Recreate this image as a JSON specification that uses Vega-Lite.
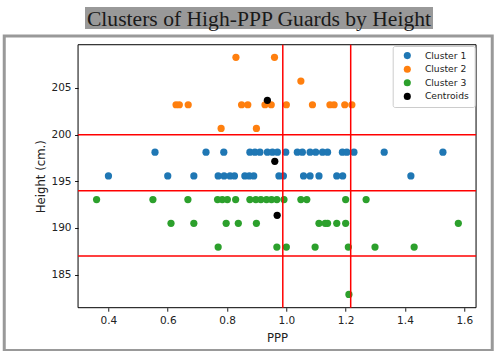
{
  "$schema": "https://vega.github.io/schema/vega-lite/v6.json",
  "padding": {"left": 2, "top": 7, "right": 0, "bottom": 0},
  "background": "white",
  "spacing": 3,
  "center": true,
  "config": {"view": {"stroke": null}, "font": "DejaVu Sans"},
  "vconcat": [
    {
      "spacing": 0,
      "hconcat": [
        {
          "width": 20,
          "height": 22,
          "data": {"values": []},
          "mark": {"type": "point", "opacity": 0}
        },
        {
          "width": 348,
          "height": 22,
          "view": {"fill": "#999999", "stroke": null},
          "data": {"values": [{"t": "Clusters of High-PPP Guards by Height"}]},
          "mark": {"type": "text", "font": "Liberation Serif", "fontSize": 21.6, "color": "#1a1a1a", "baseline": "alphabetic", "align": "center", "dy": 8},
          "encoding": {"text": {"field": "t", "type": "nominal"}}
        }
      ]
    },
    {
      "width": 488,
      "height": 314.5,
      "view": {"stroke": "#999999", "strokeWidth": 3, "fill": "white"},
      "encoding": {
        "x": {
          "field": "x", "type": "quantitative",
          "scale": {"domain": [0.0486, 1.6944], "nice": false, "zero": false},
          "axis": {
            "values": [0.4, 0.6, 0.8, 1.0, 1.2, 1.4, 1.6], "format": ".1f",
            "offset": -42.8, "domain": false, "grid": false,
            "tickSize": 3.5, "tickColor": "black", "tickWidth": 0.9,
            "labelFontSize": 10.5, "labelColor": "#222222", "labelPadding": 4,
            "labelFlush": false, "labelOverlap": false,
            "title": "PPP", "titleFontSize": 11.7, "titleFontWeight": "normal",
            "titleColor": "#222222", "titlePadding": 7, "titleX": 272.8
          }
        },
        "y": {
          "field": "y", "type": "quantitative",
          "scale": {"domain": [176.875, 210.565], "nice": false, "zero": false},
          "axis": {
            "values": [185, 190, 195, 200, 205],
            "offset": -73.8, "domain": false, "grid": false,
            "tickSize": 3.5, "tickColor": "black", "tickWidth": 0.9,
            "labelFontSize": 10.5, "labelColor": "#222222", "labelPadding": 3.5,
            "labelFlush": false, "labelOverlap": false,
            "title": "Height (cm.)", "titleFontSize": 11.7, "titleFontWeight": "normal",
            "titleColor": "#222222", "titlePadding": 5, "titleY": 140.2
          }
        }
      },
      "layer": [
        {
          "data": {"values": [{"x": 0.2975, "x2": 1.6398, "y": 181.46, "y2": 209.63}]},
          "mark": {"type": "rect", "fill": "transparent", "stroke": "black", "strokeWidth": 1},
          "encoding": {"x2": {"field": "x2"}, "y2": {"field": "y2"}}
        },
        {
          "data": {"values": [
            {"group": "Cluster 1", "x": 0.557, "y": 198.12},
            {"group": "Cluster 1", "x": 0.729, "y": 198.12},
            {"group": "Cluster 1", "x": 0.789, "y": 198.12},
            {"group": "Cluster 1", "x": 0.877, "y": 198.12},
            {"group": "Cluster 1", "x": 0.894, "y": 198.12},
            {"group": "Cluster 1", "x": 0.911, "y": 198.12},
            {"group": "Cluster 1", "x": 0.936, "y": 198.12},
            {"group": "Cluster 1", "x": 0.953, "y": 198.12},
            {"group": "Cluster 1", "x": 0.970, "y": 198.12},
            {"group": "Cluster 1", "x": 0.998, "y": 198.12},
            {"group": "Cluster 1", "x": 1.037, "y": 198.12},
            {"group": "Cluster 1", "x": 1.054, "y": 198.12},
            {"group": "Cluster 1", "x": 1.080, "y": 198.12},
            {"group": "Cluster 1", "x": 1.099, "y": 198.12},
            {"group": "Cluster 1", "x": 1.122, "y": 198.12},
            {"group": "Cluster 1", "x": 1.139, "y": 198.12},
            {"group": "Cluster 1", "x": 1.189, "y": 198.12},
            {"group": "Cluster 1", "x": 1.204, "y": 198.12},
            {"group": "Cluster 1", "x": 1.228, "y": 198.12},
            {"group": "Cluster 1", "x": 1.330, "y": 198.12},
            {"group": "Cluster 1", "x": 1.528, "y": 198.12},
            {"group": "Cluster 1", "x": 0.400, "y": 195.58},
            {"group": "Cluster 1", "x": 0.600, "y": 195.58},
            {"group": "Cluster 1", "x": 0.688, "y": 195.58},
            {"group": "Cluster 1", "x": 0.770, "y": 195.58},
            {"group": "Cluster 1", "x": 0.790, "y": 195.58},
            {"group": "Cluster 1", "x": 0.810, "y": 195.58},
            {"group": "Cluster 1", "x": 0.825, "y": 195.58},
            {"group": "Cluster 1", "x": 0.860, "y": 195.58},
            {"group": "Cluster 1", "x": 0.875, "y": 195.58},
            {"group": "Cluster 1", "x": 0.890, "y": 195.58},
            {"group": "Cluster 1", "x": 0.975, "y": 195.58},
            {"group": "Cluster 1", "x": 0.990, "y": 195.58},
            {"group": "Cluster 1", "x": 1.058, "y": 195.58},
            {"group": "Cluster 1", "x": 1.080, "y": 195.58},
            {"group": "Cluster 1", "x": 1.110, "y": 195.58},
            {"group": "Cluster 1", "x": 1.170, "y": 195.58},
            {"group": "Cluster 1", "x": 1.190, "y": 195.58},
            {"group": "Cluster 1", "x": 1.420, "y": 195.58},
            {"group": "Cluster 2", "x": 0.830, "y": 208.28},
            {"group": "Cluster 2", "x": 0.960, "y": 208.28},
            {"group": "Cluster 2", "x": 1.049, "y": 205.74},
            {"group": "Cluster 2", "x": 0.628, "y": 203.2},
            {"group": "Cluster 2", "x": 0.639, "y": 203.2},
            {"group": "Cluster 2", "x": 0.669, "y": 203.2},
            {"group": "Cluster 2", "x": 0.849, "y": 203.2},
            {"group": "Cluster 2", "x": 0.870, "y": 203.2},
            {"group": "Cluster 2", "x": 0.928, "y": 203.2},
            {"group": "Cluster 2", "x": 0.949, "y": 203.2},
            {"group": "Cluster 2", "x": 1.000, "y": 203.2},
            {"group": "Cluster 2", "x": 1.088, "y": 203.2},
            {"group": "Cluster 2", "x": 1.147, "y": 203.2},
            {"group": "Cluster 2", "x": 1.161, "y": 203.2},
            {"group": "Cluster 2", "x": 1.197, "y": 203.2},
            {"group": "Cluster 2", "x": 1.221, "y": 203.2},
            {"group": "Cluster 2", "x": 0.780, "y": 200.66},
            {"group": "Cluster 2", "x": 0.899, "y": 200.66},
            {"group": "Cluster 3", "x": 0.360, "y": 193.04},
            {"group": "Cluster 3", "x": 0.550, "y": 193.04},
            {"group": "Cluster 3", "x": 0.668, "y": 193.04},
            {"group": "Cluster 3", "x": 0.768, "y": 193.04},
            {"group": "Cluster 3", "x": 0.784, "y": 193.04},
            {"group": "Cluster 3", "x": 0.801, "y": 193.04},
            {"group": "Cluster 3", "x": 0.829, "y": 193.04},
            {"group": "Cluster 3", "x": 0.877, "y": 193.04},
            {"group": "Cluster 3", "x": 0.897, "y": 193.04},
            {"group": "Cluster 3", "x": 0.914, "y": 193.04},
            {"group": "Cluster 3", "x": 0.933, "y": 193.04},
            {"group": "Cluster 3", "x": 0.950, "y": 193.04},
            {"group": "Cluster 3", "x": 0.968, "y": 193.04},
            {"group": "Cluster 3", "x": 0.992, "y": 193.04},
            {"group": "Cluster 3", "x": 1.049, "y": 193.04},
            {"group": "Cluster 3", "x": 1.069, "y": 193.04},
            {"group": "Cluster 3", "x": 1.200, "y": 193.04},
            {"group": "Cluster 3", "x": 1.269, "y": 193.04},
            {"group": "Cluster 3", "x": 0.611, "y": 190.5},
            {"group": "Cluster 3", "x": 0.688, "y": 190.5},
            {"group": "Cluster 3", "x": 0.797, "y": 190.5},
            {"group": "Cluster 3", "x": 0.838, "y": 190.5},
            {"group": "Cluster 3", "x": 0.899, "y": 190.5},
            {"group": "Cluster 3", "x": 1.110, "y": 190.5},
            {"group": "Cluster 3", "x": 1.131, "y": 190.5},
            {"group": "Cluster 3", "x": 1.139, "y": 190.5},
            {"group": "Cluster 3", "x": 1.170, "y": 190.5},
            {"group": "Cluster 3", "x": 1.200, "y": 190.5},
            {"group": "Cluster 3", "x": 1.580, "y": 190.5},
            {"group": "Cluster 3", "x": 0.770, "y": 187.96},
            {"group": "Cluster 3", "x": 0.968, "y": 187.96},
            {"group": "Cluster 3", "x": 1.000, "y": 187.96},
            {"group": "Cluster 3", "x": 1.097, "y": 187.96},
            {"group": "Cluster 3", "x": 1.209, "y": 187.96},
            {"group": "Cluster 3", "x": 1.299, "y": 187.96},
            {"group": "Cluster 3", "x": 1.431, "y": 187.96},
            {"group": "Cluster 3", "x": 1.211, "y": 182.88},
            {"group": "Centroids", "x": 0.961, "y": 197.14},
            {"group": "Centroids", "x": 0.936, "y": 203.68},
            {"group": "Centroids", "x": 0.969, "y": 191.36}
          ]},
          "mark": {"type": "circle", "size": 52, "opacity": 1},
          "encoding": {
            "color": {
              "field": "group", "type": "nominal",
              "scale": {"domain": ["Cluster 1", "Cluster 2", "Cluster 3", "Centroids"], "range": ["#1f77b4", "#ff7f0e", "#2ca02c", "#000000"]},
              "legend": {
                "title": null, "orient": "none", "legendX": 388.7, "legendY": 39,
                "fillColor": "white", "strokeColor": "#cccccc", "cornerRadius": 2,
                "padding": 5, "labelFontSize": 9.2, "labelFont": "DejaVu Sans", "labelColor": "#222222",
                "symbolSize": 50, "symbolType": "circle", "rowPadding": 3.6,
                "labelOffset": 13, "symbolOffset": 5
              }
            }
          }
        },
        {
          "data": {"values": [
            {"x": 0.988, "x2": 0.988, "y": 181.46, "y2": 209.63},
            {"x": 1.217, "x2": 1.217, "y": 181.46, "y2": 209.63},
            {"x": 0.2975, "x2": 1.6398, "y": 200.0, "y2": 200.0},
            {"x": 0.2975, "x2": 1.6398, "y": 194.0, "y2": 194.0},
            {"x": 0.2975, "x2": 1.6398, "y": 187.0, "y2": 187.0}
          ]},
          "mark": {"type": "rule", "color": "red", "strokeWidth": 1.5},
          "encoding": {"x2": {"field": "x2"}, "y2": {"field": "y2"}}
        }
      ]
    }
  ]
}
